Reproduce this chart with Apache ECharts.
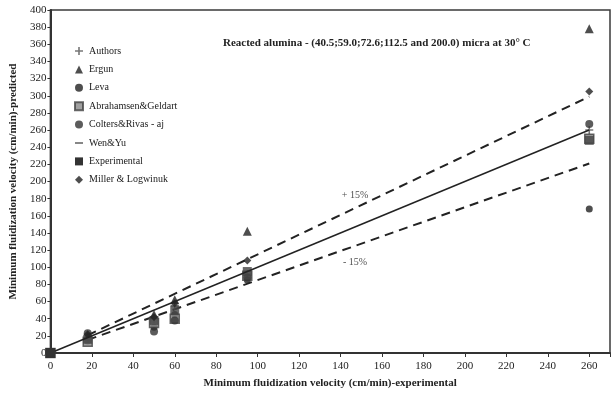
<!DOCTYPE html>
<html>
<head>
<meta charset="utf-8">
<script src="https://cdn.jsdelivr.net/npm/echarts@6/dist/echarts.min.js"></script>
<style>
html,body{margin:0;padding:0;background:#fff;}
#chart{width:613px;height:396px;}
</style>
</head>
<body>
<div id="chart"></div>
<script>
// Experimental minimum fluidization velocities (cm/min)
var umfExp = [18, 50, 60, 95, 260];

// Predicted values per correlation (cm/min)
var authors    = [17, 40, 55, 92, 260];
var ergun      = [20, 45, 62, 142, 378];
var leva       = [14, 30, 45, 85, 168];
var abrahamsen = [13, 35, 40, 90, 250];
var colters    = [23, 25, 38, 88, 267];
var wenYu      = [16, 38, 50, 95, 248];
var miller     = [22, 42, 58, 108, 305];

// Parity line and +/-15% band
var parityX = [0, 260];
var bandX = [18, 260];
var bandPct = 0.15;

var xTicks = [0, 20, 40, 60, 80, 100, 120, 140, 160, 180, 200, 220, 240, 260];
var yMax = 400;

var bandLabels = [
  {x: 147, y: 184, text: '+ 15%'},
  {x: 147, y: 106, text: '- 15%'}
];

var serif = '"Liberation Serif", "DejaVu Serif", serif';

function pairs(ys) {
  return umfExp.map(function (x, i) { return [x, ys[i]]; });
}
function zeroPlus(ys) {
  return [[0, 0]].concat(pairs(ys));
}

var plusPath = 'path://M4,0h2v4h4v2h-4v4h-2v-4h-4v-2h4z';
var dashPath = 'path://M0,4h10v2h-10z';

var chart = echarts.init(document.getElementById('chart'));
chart.setOption({
  animation: false,
  backgroundColor: '#fff',
  grid: {left: 47, right: -5, top: 10, bottom: 43, show: true, borderColor: '#3a3a3a', borderWidth: 1.5},
  title: {
    text: 'Reacted alumina - (40.5;59.0;72.6;112.5 and 200.0) micra at 30\u00b0 C',
    left: 218, top: 33,
    textStyle: {fontFamily: serif, fontSize: 11, fontWeight: 'bold', color: '#222'}
  },
  legend: {
    orient: 'vertical', left: 69, top: 41, itemGap: 8.4, itemWidth: 8, itemHeight: 8,
    textStyle: {fontFamily: serif, fontSize: 10, color: '#1a1a1a', padding: [0, 0, 0, 1]},
    data: [
      {name: 'Authors', icon: plusPath},
      {name: 'Ergun', icon: 'triangle'},
      {name: 'Leva', icon: 'circle'},
      {name: 'Abrahamsen&Geldart', icon: 'rect'},
      {name: 'Colters&Rivas - aj', icon: 'circle'},
      {name: 'Wen&Yu', icon: dashPath},
      {name: 'Experimental', icon: 'rect'},
      {name: 'Miller & Logwinuk', icon: 'diamond'}
    ]
  },
  xAxis: {
    type: 'value', min: 0, max: 270, interval: 20,
    name: 'Minimum fluidization velocity (cm/min)-experimental',
    nameLocation: 'middle', nameGap: 25,
    nameTextStyle: {fontFamily: serif, fontSize: 11, fontWeight: 'bold', color: '#222'},
    axisLine: {lineStyle: {color: '#333', width: 2}},
    axisTick: {lineStyle: {color: '#333'}, length: 4},
    axisLabel: {fontFamily: serif, fontSize: 11, color: '#222', margin: 8,
      formatter: function (v) { return xTicks.indexOf(v) >= 0 ? String(v) : ''; }},
    splitLine: {show: false}
  },
  yAxis: {
    type: 'value', min: 0, max: yMax, interval: 20,
    name: 'Minimum fluidization velocity (cm/min)-predicted',
    nameLocation: 'middle', nameGap: 30,
    nameTextStyle: {fontFamily: serif, fontSize: 11, fontWeight: 'bold', color: '#222'},
    axisLine: {lineStyle: {color: '#333', width: 2}},
    axisTick: {lineStyle: {color: '#333'}, length: 3},
    axisLabel: {fontFamily: serif, fontSize: 11, color: '#222', margin: 4},
    splitLine: {show: false}
  },
  series: [
    {name: 'Experimental', type: 'line',
      data: parityX.map(function (v, i) {
        return i === 0 ? {value: [v, v], symbol: 'rect', symbolSize: 10} : {value: [v, v], symbol: 'none'};
      }),
      showSymbol: true,
      lineStyle: {color: '#222', width: 1.5}, itemStyle: {color: '#333'}, z: 3},
    {name: 'upper', type: 'line', data: bandX.map(function (v) { return [v, v * (1 + bandPct)]; }),
      symbol: 'none', lineStyle: {color: '#222', width: 2, type: [9, 6]}, z: 2},
    {name: 'lower', type: 'line', data: bandX.map(function (v) { return [v, v * (1 - bandPct)]; }),
      symbol: 'none', lineStyle: {color: '#222', width: 2, type: [9, 6]}, z: 2},
    {name: 'Authors', type: 'scatter', data: zeroPlus(authors), symbol: plusPath, symbolSize: 8,
      itemStyle: {color: '#555'}},
    {name: 'Ergun', type: 'scatter', data: zeroPlus(ergun), symbol: 'triangle', symbolSize: 9,
      itemStyle: {color: '#222'}},
    {name: 'Leva', type: 'scatter', data: zeroPlus(leva), symbol: 'circle', symbolSize: 7,
      itemStyle: {color: '#222'}},
    {name: 'Abrahamsen&Geldart', type: 'scatter', data: zeroPlus(abrahamsen), symbol: 'rect', symbolSize: 9,
      itemStyle: {color: '#888', borderColor: '#444', borderWidth: 1.5}},
    {name: 'Colters&Rivas - aj', type: 'scatter', data: zeroPlus(colters), symbol: 'circle', symbolSize: 8,
      itemStyle: {color: '#333'}},
    {name: 'Wen&Yu', type: 'scatter', data: zeroPlus(wenYu), symbol: dashPath, symbolSize: [9, 9],
      itemStyle: {color: '#444'}},
    {name: 'Miller & Logwinuk', type: 'scatter', data: zeroPlus(miller), symbol: 'diamond', symbolSize: 8,
      itemStyle: {color: '#222'}},
    {name: 'bandText', type: 'scatter', symbolSize: 0, silent: true,
      data: bandLabels.map(function (d) { return {value: [d.x, d.y], label: {formatter: d.text}}; }),
      label: {show: true, position: 'inside', fontFamily: serif, fontSize: 10, color: '#222'}}
  ]
});
</script>
</body>
</html>
